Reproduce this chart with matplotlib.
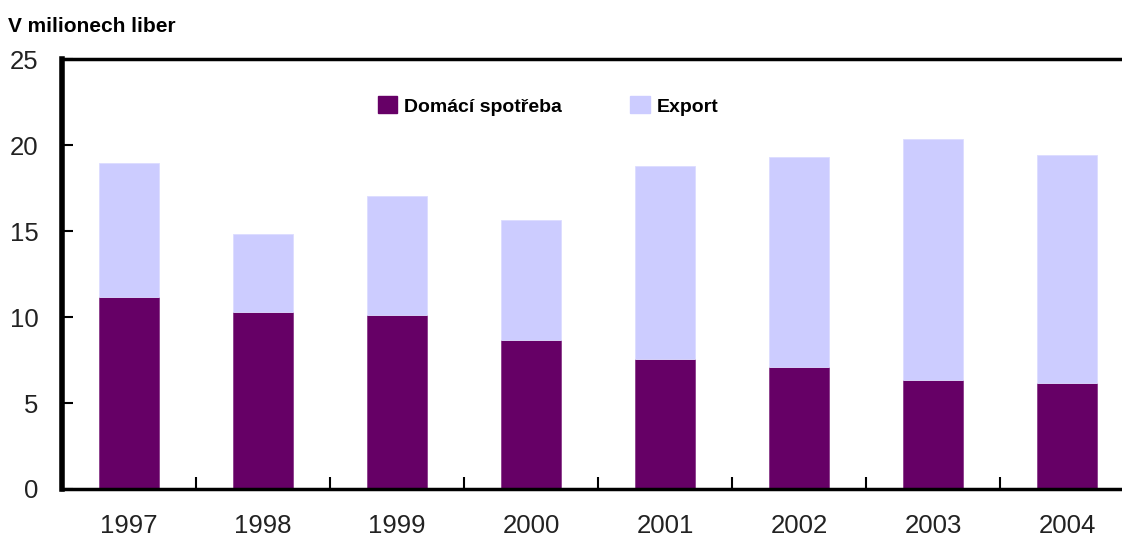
import numpy as np
import matplotlib
matplotlib.use("Agg")
import matplotlib.pyplot as plt
from matplotlib.patches import Patch

years = ["1997", "1998", "1999", "2000", "2001", "2002", "2003", "2004"]
domestic = [11.2, 10.3, 10.1, 8.7, 7.55, 7.1, 6.35, 6.15]
export = [7.75, 4.55, 6.95, 6.95, 11.25, 12.2, 14.05, 13.3]

c_dom = "#660066"
c_exp = "#CCCCFF"
narrow = ["Liberation Sans Narrow", "Liberation Sans", "DejaVu Sans"]

fig = plt.figure(figsize=(11.22, 5.38), dpi=100)
# the plot runs past the right edge of the picture, as in the original
ax = fig.add_axes([62 / 1122, 49 / 538, (1134 - 62) / 1122, (489 - 59.5) / 538])

x = np.arange(len(years))
ax.bar(x, domestic, 0.45, color=c_dom, edgecolor="#8a3a8a", linewidth=0.6)
ax.bar(x, export, 0.45, bottom=domestic, color=c_exp, edgecolor="#dcdcff", linewidth=0.6)

ax.set_xlim(-0.5, len(years) - 0.5)
ax.set_ylim(0, 25)
ax.set_yticks(range(0, 26, 5))
ax.set_xticks(x)
ax.set_xticklabels(years)
ax.set_xticks(x[:-1] + 0.5, minor=True)

for lab in ax.get_xticklabels() + ax.get_yticklabels():
    lab.set_family("Liberation Sans")
    lab.set_fontsize(18.5)
    lab.set_color("#222222")

ax.tick_params(axis="x", which="major", length=0, pad=18)
ax.tick_params(axis="x", which="minor", direction="in", length=9, width=1.5)
ax.tick_params(axis="y", direction="in", length=8, width=1.5, pad=17)

ax.spines["right"].set_visible(False)
ax.spines["top"].set_linewidth(2.5)
ax.spines["bottom"].set_linewidth(2.5)
ax.spines["left"].set_linewidth(4)

fig.text(8 / 1122, 1 - 27 / 538, "V milionech liber", family=narrow,
         fontweight="bold", fontsize=15, va="center", ha="left")

handles = [Patch(facecolor=c_dom, edgecolor=c_dom),
           Patch(facecolor=c_exp, edgecolor=c_exp)]
fig.legend(handles, ["Domácí spotřeba", "Export"], ncol=2, frameon=False,
           loc="center left", bbox_to_anchor=(378 / 1122, 1 - 106 / 538),
           borderpad=0, borderaxespad=0, handlelength=1.0, handleheight=0.95,
           handletextpad=0.35, columnspacing=3.5,
           prop={"family": narrow, "weight": "bold", "size": 14})

fig.savefig("out.png", dpi=100)
